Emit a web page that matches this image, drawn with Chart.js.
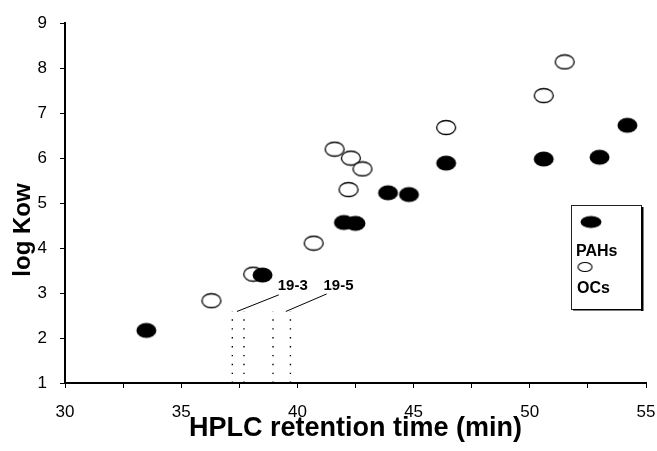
<!DOCTYPE html>
<html><head><meta charset="utf-8">
<script src="https://cdn.jsdelivr.net/npm/chart.js@4/dist/chart.umd.min.js"></script>
<style>html,body{margin:0;padding:0;background:#fff}#wrap{width:657px;height:451px}</style>
</head><body><div id="wrap"><canvas id="c" width="657" height="451"></canvas></div>
<script>
// ---- data ----
const pahX = [33.5, 38.5, 42.0, 42.5, 43.9, 44.8, 46.4, 50.6, 53.0, 54.2];
const pahY = [2.17, 3.40, 4.57, 4.55, 5.23, 5.19, 5.89, 5.98, 6.02, 6.73];
const ocX  = [36.3, 38.1, 40.7, 41.6, 42.3, 42.8, 42.2, 46.4, 50.6, 51.5];
const ocY  = [2.83, 3.42, 4.11, 6.20, 6.00, 5.76, 5.30, 6.68, 7.39, 8.14];
const peakX = [37.2, 37.7, 38.95, 39.7];
const peakBase = 1, peakTop = 2.59;
const fractionLabels = ['19-3', '19-5'];
const labelX = [39.8, 41.77];
const labelY = [3.16, 3.16];
const leaderStartX = [37.4, 39.5];
const leaderStartY = [2.59, 2.59];
const leaderEndX = [39.2, 41.26];
const leaderEndY = [2.96, 2.98];
const seriesNames = ['PAHs', 'OCs'];
const xTitle = 'HPLC retention time (min)';
const yTitle = 'log Kow';

const FONT = '"Liberation Sans", Arial, Helvetica, sans-serif';

function ellipse(fill, stroke, w, h, lw) {
  const c = document.createElement('canvas');
  c.width = w + 3; c.height = h + 3;
  const g = c.getContext('2d');
  g.beginPath();
  g.ellipse(c.width / 2, c.height / 2, w / 2, h / 2, 0, 0, Math.PI * 2);
  g.fillStyle = fill; g.fill();
  if (stroke) { g.lineWidth = lw; g.strokeStyle = stroke; g.stroke(); }
  return c;
}
const filledMark = ellipse('#000', null, 20, 15, 0);
const openMark = ellipse('#fff', '#000', 19, 14, 1.3);
const legFilled = ellipse('#000', null, 21, 12, 0);
const legOpen = ellipse('#fff', '#000', 14, 9, 1.1);

const datasets = [
  { label: seriesNames[0], data: pahX.map((x, i) => ({x, y: pahY[i]})),
    pointStyle: filledMark, pointRadius: 10, order: 0 },
  { label: seriesNames[1], data: ocX.map((x, i) => ({x, y: ocY[i]})),
    pointStyle: openMark, pointRadius: 10, order: 1 }
];
peakX.forEach(px => datasets.push({
  data: [{x: px, y: peakBase}, {x: px, y: peakTop}], showLine: true,
  borderColor: '#000', borderWidth: 1.4, borderDash: [1.4, 7.5], pointRadius: 0, order: 3
}));
leaderStartX.forEach((sx, i) => datasets.push({
  data: [{x: sx, y: leaderStartY[i]}, {x: leaderEndX[i], y: leaderEndY[i]}], showLine: true,
  borderColor: '#000', borderWidth: 1, pointRadius: 0, order: 3
}));

const extras = {
  id: 'extras',
  afterDatasetsDraw(chart) {
    const {ctx, scales: {x, y}} = chart;
    ctx.save();
    ctx.fillStyle = '#000';
    ctx.font = 'bold 15px ' + FONT;
    ctx.textAlign = 'center'; ctx.textBaseline = 'middle';
    fractionLabels.forEach((t, i) => ctx.fillText(t, x.getPixelForValue(labelX[i]), y.getPixelForValue(labelY[i])));
    // y axis title
    ctx.save();
    ctx.translate(23, 230);
    ctx.rotate(-Math.PI / 2);
    ctx.font = 'bold 24px ' + FONT;
    ctx.fillText(yTitle, 0, 0);
    ctx.restore();
    // legend box
    const L = 571, T = 205, R = 641, B = 309;
    ctx.fillStyle = '#fff';
    ctx.fillRect(L, T, R - L, B - T);
    ctx.strokeStyle = '#222'; ctx.lineWidth = 1;
    ctx.strokeRect(L + 0.5, T + 0.5, R - L, B - T);
    ctx.fillStyle = '#000';
    ctx.fillRect(R, T + 2, 2.5, B - T);
    ctx.fillRect(L + 2, B, R - L, 1.5);
    ctx.drawImage(legFilled, 591 - legFilled.width / 2, 222 - legFilled.height / 2);
    ctx.drawImage(legOpen, 585 - legOpen.width / 2, 267 - legOpen.height / 2);
    ctx.font = 'bold 16px ' + FONT;
    ctx.textAlign = 'left';
    ctx.fillText(seriesNames[0], 576, 252);
    ctx.fillText(seriesNames[1], 577, 289);
    ctx.restore();
  }
};

new Chart(document.getElementById('c'), {
  type: 'scatter',
  data: { datasets },
  options: {
    responsive: false, animation: false, devicePixelRatio: 1,
    layout: { padding: { top: 20, right: 0, left: 0, bottom: 0 } },
    plugins: { legend: { display: false }, tooltip: { enabled: false } },
    scales: {
      x: {
        type: 'linear', min: 30, max: 55,
        afterFit: s => { s.height = 68; s.paddingRight = 9; s.paddingLeft = 0; },
        ticks: { stepSize: 2.5, autoSkip: false, color: '#000', padding: 14,
          font: { family: FONT, size: 17 },
          callback: v => (v % 5 === 0 ? String(v) : '') },
        grid: { drawOnChartArea: false, drawTicks: true, tickLength: 5, color: '#000', tickWidth: 1 },
        border: { color: '#000', width: 2 },
        title: { display: true, text: xTitle, color: '#000', font: { family: FONT, size: 27, weight: 'bold' },
          padding: { top: 0, bottom: 6 } }
      },
      y: {
        type: 'linear', min: 1, max: 9,
        afterFit: s => { s.width = 65; },
        ticks: { stepSize: 1, color: '#000', padding: 13, font: { family: FONT, size: 17 } },
        grid: { drawOnChartArea: false, drawTicks: true, tickLength: 5, color: '#000', tickWidth: 1 },
        border: { color: '#000', width: 2 }
      }
    }
  },
  plugins: [extras]
});
</script></body></html>
